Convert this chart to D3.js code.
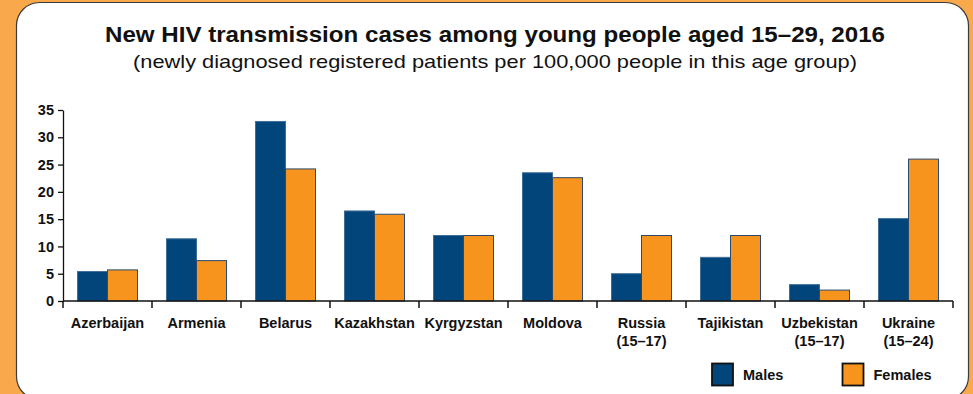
<!DOCTYPE html>
<html>
<head>
<meta charset="utf-8">
<script src="https://cdn.jsdelivr.net/npm/d3@7"></script>
<style>
  html, body { margin: 0; padding: 0; background: #FAA84C; }
  svg { display: block; }
  text { font-family: "Liberation Sans", Arial, Helvetica, sans-serif; fill: #111; }
</style>
</head>
<body>
<svg id="chart" width="973" height="394"></svg>
<script>
// Countries (with the age group shown where it differs from 15–29)
const categories = [
  ["Azerbaijan"], ["Armenia"], ["Belarus"], ["Kazakhstan"], ["Kyrgyzstan"],
  ["Moldova"], ["Russia", "(15\u201317)"], ["Tajikistan"],
  ["Uzbekistan", "(15\u201317)"], ["Ukraine", "(15\u201324)"]
];
const series = ["Males", "Females"];
const males   = [5.4, 11.4, 32.9, 16.5, 12.0, 23.5, 5.0, 8.0, 3.0, 15.1];
const females = [5.7, 7.4, 24.2, 15.9, 12.0, 22.6, 12.0, 12.0, 2.0, 26.0];
const yTicks = [0, 5, 10, 15, 20, 25, 30, 35];

const title = "New HIV transmission cases among young people aged 15\u201329, 2016";
const subtitle = "(newly diagnosed registered patients per 100,000 people in this age group)";

const colors = { Males: "#02457A", Females: "#F7941D" };
const strokes = { Males: "#3f6f98", Females: "#2a4a6e" };

const svg = d3.select("#chart");

// Rounded white card with a thin dark outline
svg.append("rect")
  .attr("x", 16.5).attr("y", 2.5)
  .attr("width", 952).attr("height", 397)
  .attr("rx", 23).attr("ry", 23)
  .attr("fill", "#fff")
  .attr("stroke", "#3a3a3a").attr("stroke-width", 1.2);

// Titles
svg.append("text")
  .attr("x", 495).attr("y", 42)
  .attr("text-anchor", "middle")
  .attr("textLength", 780).attr("lengthAdjust", "spacingAndGlyphs")
  .style("font-size", "22px").style("font-weight", "bold")
  .text(title);
svg.append("text")
  .attr("x", 495).attr("y", 68)
  .attr("text-anchor", "middle")
  .attr("textLength", 724).attr("lengthAdjust", "spacingAndGlyphs")
  .style("font-size", "19px")
  .text(subtitle);

// Scales
const names = categories.map(c => c.join(" "));
const x = d3.scaleBand().domain(names).range([63, 953]).padding(0);
const xs = d3.scaleBand().domain(series).range([14.5, x.bandwidth() - 14.5]).padding(0);
const y = d3.scaleLinear().domain([0, 35]).range([301, 110]);

// Bars
const rows = names.map((n, i) => ({ name: n, Males: males[i], Females: females[i] }));
const groups = svg.append("g").selectAll("g")
  .data(rows).join("g")
  .attr("transform", d => `translate(${x(d.name)},0)`);
groups.selectAll("rect")
  .data(d => series.map(s => ({ key: s, value: d[s] })))
  .join("rect")
  .attr("x", d => xs(d.key))
  .attr("y", d => y(d.value))
  .attr("width", xs.bandwidth())
  .attr("height", d => y(0) - y(d.value))
  .attr("fill", d => colors[d.key])
  .attr("stroke", d => strokes[d.key])
  .attr("stroke-width", 1);

// Y axis
const yAxis = svg.append("g")
  .attr("transform", "translate(63,0)")
  .call(d3.axisLeft(y).tickValues(yTicks).tickSize(5).tickPadding(4).tickSizeOuter(0));
yAxis.select(".domain").attr("stroke", "#111").attr("stroke-width", 1.3);
yAxis.selectAll(".tick line").attr("stroke", "#111").attr("stroke-width", 1.3);
yAxis.selectAll(".tick text")
  .style("font-size", "14.5px").style("font-weight", "bold")
  .attr("fill", "#111")
  .style("font-family", "'Liberation Sans', Arial, sans-serif");

// X axis: baseline with ticks at the group boundaries
const boundaries = names.map(n => x(n)).concat([x.range()[1]]);
const xAxis = svg.append("g");
xAxis.append("line")
  .attr("x1", x.range()[0]).attr("x2", x.range()[1])
  .attr("y1", y(0)).attr("y2", y(0))
  .attr("stroke", "#111").attr("stroke-width", 1.5);
xAxis.selectAll("line.tick")
  .data(boundaries).join("line")
  .attr("class", "tick")
  .attr("x1", d => d).attr("x2", d => d)
  .attr("y1", y(0)).attr("y2", y(0) + 7)
  .attr("stroke", "#111").attr("stroke-width", 1.5);

const labels = xAxis.selectAll("text.cat")
  .data(categories).join("text")
  .attr("class", "cat")
  .attr("text-anchor", "middle")
  .attr("x", (d, i) => x(names[i]) + x.bandwidth() / 2)
  .attr("y", 328)
  .style("font-size", "14.5px").style("font-weight", "bold");
labels.selectAll("tspan")
  .data(d => d).join("tspan")
  .attr("x", function () { return d3.select(this.parentNode).attr("x"); })
  .attr("dy", (d, i) => i === 0 ? 0 : 18)
  .text(d => d);

// Legend
const legend = svg.append("g");
const legendX = { Males: 712, Females: 842.5 };
series.forEach(s => {
  legend.append("rect")
    .attr("x", legendX[s]).attr("y", 363.5)
    .attr("width", 21).attr("height", 22)
    .attr("fill", colors[s])
    .attr("stroke", "#111").attr("stroke-width", 1.8);
  legend.append("text")
    .attr("x", legendX[s] + 31).attr("y", 380)
    .style("font-size", "14.5px").style("font-weight", "bold")
    .text(s);
});
</script>
</body>
</html>
